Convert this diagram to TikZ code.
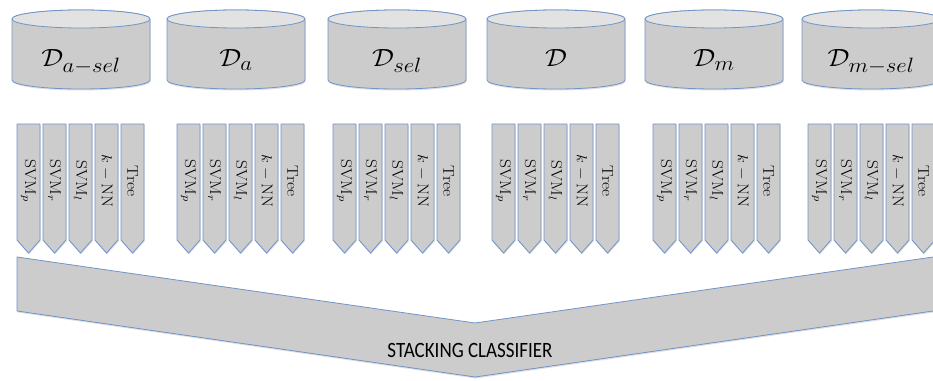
\documentclass[tikz,border=0pt]{standalone}
\usepackage{amsmath}
\usepackage{amssymb}
\usepackage{fontspec}
\newfontfamily\calibrifont{Carlito}
\usetikzlibrary{shadows}
\definecolor{edgeblue}{RGB}{112,148,200}
\definecolor{boxgray}{RGB}{204,204,204}
\definecolor{topgray}{RGB}{226,226,226}

\begin{document}
\begin{tikzpicture}[x=1pt, y=1pt,
        part/.style={fill=boxgray, draw=edgeblue, line width=0.8pt, line join=round},
        shade part/.style={part, drop shadow={opacity=0.25, shadow xshift=0.5pt, shadow yshift=-1.5pt}},
        dbname/.style={font=\fontsize{30}{36}\selectfont, xscale=1.1, anchor=base},
        clfname/.style={font=\fontsize{15.5}{18}\selectfont, rotate=-90, xscale=1.12}]
            \useasboundingbox (0,0) rectangle (933,380);
            \clip (0,0) rectangle (933,380);

            % data sets
            \foreach \x/\sub/\nm in {12/{a-sel}/Dasel, 167/a/Da, 328/{sel}/Dsel, 487/{}/D, 645/m/Dm, 802/{m-sel}/Dmsel} {
                \filldraw[shade part] (\x,361) -- (\x,300)
                    arc[start angle=180, end angle=360, x radius=69, y radius=9] -- (\x+138,361)
                    arc[start angle=0, end angle=180, x radius=69, y radius=9] -- cycle;
                \filldraw[part, fill=topgray] (\x+69,361) ellipse[x radius=69, y radius=9];
                \node[dbname] (\nm) at (\x+69,313) {$\mathcal{D}_{\sub}$};
            }

            % base classifiers
            \foreach \gx [count=\g] in {17,177,333,492,653,808} {
                \foreach \lab [count=\i from 0] in {SVM$_p$, SVM$_r$, SVM$_l$, $k-\mathrm{NN}$, Tree} {
                    \filldraw[shade part] (\gx+26*\i,256) -- ++(23,0) -- ++(0,-116)
                        -- ++(-11.5,-13) -- ++(-11.5,13) -- cycle;
                    \node[clfname] (clf\g\i) at (\gx+26*\i+11.5,199) {\lab};
                }
            }

            % meta classifier
            \filldraw[shade part] (17,123) -- (475,57) -- (940,124) -- (940,70) -- (475,3) -- (17,69) -- cycle;
            \node[font=\calibrifont\fontsize{19}{22}\selectfont, yscale=1.15] (stack) at (470,30) {STACKING CLASSIFIER};
        \end{tikzpicture}
\end{document}
